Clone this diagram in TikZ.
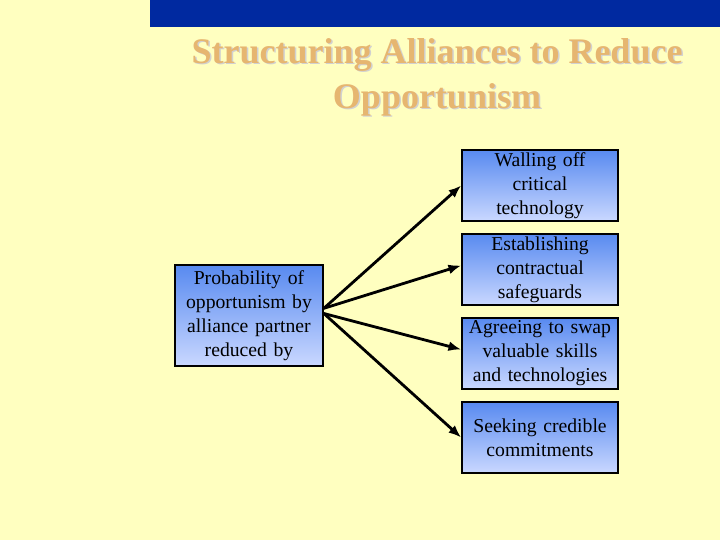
\documentclass[tikz,border=0pt]{standalone}
\usepackage{fontspec}
\setmainfont{Liberation Serif}
\usetikzlibrary{arrows.meta,shadings}
\definecolor{paper}{RGB}{255,255,192}
\definecolor{barblue}{RGB}{0,41,160}
\definecolor{titletan}{RGB}{230,182,112}
\definecolor{boxtop}{RGB}{88,138,240}
\definecolor{boxbottom}{RGB}{202,216,255}
\begin{document}
\begin{tikzpicture}[x=0.025cm,y=-0.025cm,
        box/.style={draw=black,line width=1.2pt,top color=boxtop,bottom color=boxbottom,
            align=center,font=\fontsize{14}{17}\selectfont,inner sep=0pt},
        way/.style={box,minimum width=3.9cm,minimum height=1.775cm,text width=3.8cm},
        link/.style={line width=2pt,-{Latex[length=9pt,width=7pt]}},
        heading/.style={align=center,font=\fontsize{25.6}{32}\selectfont\bfseries}]
    \fill[paper] (0,0) rectangle (720,540);
    \useasboundingbox (0,0) rectangle (720,540);
    \fill[barblue] (150,0) rectangle (720,27);
    % title with its soft shadow
    \def\mytitle{Structuring Alliances to Reduce\\Opportunism}
    \node[heading,text=black!18] at (438.5,78.5) {\mytitle};
    \node[heading,text=titletan] (title) at (437,77) {\mytitle};
    \node[box,minimum width=3.7cm,minimum height=2.525cm,text width=3.6cm] (prob) at (249,315.5)
        {Probability of\\opportunism by\\alliance partner\\reduced by};
    \node[way] (wall) at (540,185.5) {Walling off\\critical\\technology};
    \node[way] (safe) at (540,269.5) {Establishing\\contractual\\safeguards};
    \node[way] (swap) at (540,353.5) {Agreeing to swap\\valuable skills\\and technologies};
    \node[way] (seek) at (540,437.5) {Seeking credible\\commitments};
    \draw[link] ([yshift=0.18cm]prob.east) -- (wall.west);
    \draw[link] ([yshift=0.18cm]prob.east) -- ([yshift=0.1cm]safe.west);
    \draw[link] ([yshift=0.05cm]prob.east) -- ([yshift=0.1cm]swap.west);
    \draw[link] ([yshift=0.05cm]prob.east) -- (seek.west);
\end{tikzpicture}
\end{document}
